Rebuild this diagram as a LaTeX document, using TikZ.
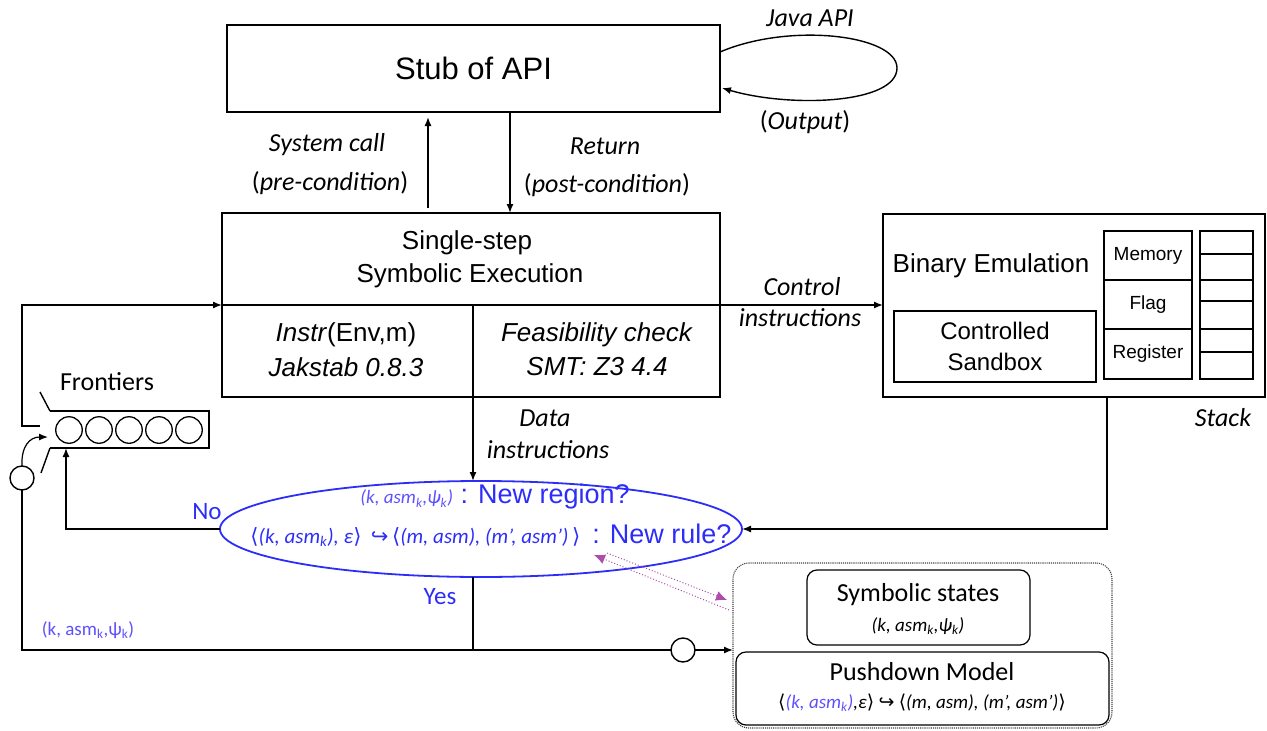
\documentclass[tikz,border=0pt]{standalone}
\usepackage{fontspec}
\setmainfont{Liberation Sans}
\newfontfamily\clb{Carlito}
\newfontfamily\dvs{DejaVu Sans}
\usetikzlibrary{shapes.geometric,arrows.meta}

\definecolor{eblue}{RGB}{45,45,250}
\definecolor{sblue}{RGB}{95,80,255}
\definecolor{pviolet}{RGB}{140,0,140}
\newcommand\lowsub[1]{\textsubscript{#1}}
\newcommand\lang{{\dvs\upshape ⟨}}
\newcommand\rang{{\dvs\upshape ⟩}}
\newcommand\hookr{{\dvs\upshape ↪}}

\begin{document}
\begin{tikzpicture}[x=1pt,y=-1pt,line width=1.4pt,
  box/.style={draw,inner sep=0,outer sep=0},
  rbox/.style={draw,inner sep=0,outer sep=0,rounded corners=10pt,line width=1.2pt},
  lab/.style={inner sep=0,font=\clb\itshape\fontsize{26}{30}\selectfont},
  ulab/.style={inner sep=0,font=\clb\fontsize{26}{30}\selectfont},
  sans/.style={inner sep=0,font=\fontsize{26}{30}\selectfont},
  cell/.style={inner sep=0,font=\fontsize{19}{22}\selectfont},
  small/.style={inner sep=0,font=\clb\itshape\fontsize{19}{22}\selectfont},
  arr/.style={-{Latex[length=9pt,width=7pt]}},
  parr/.style={pviolet!70,line width=1pt,dotted,-{Latex[length=11pt,width=10pt]}},
  ring/.style={draw,circle,inner sep=0,outer sep=0,minimum size=24pt}]
\useasboundingbox (0,0) rectangle (1267,731);

% --- API stub and its self loop
\node[box,minimum width=493,minimum height=87,font=\fontsize{31}{34}\selectfont] (stub) at (473.5,68.5) {Stub of API};
\coordinate (jl1) at (720,52);
\coordinate (jl2) at (722,88);
\draw[arr] (jl1) .. controls (790,22) and (897,35) .. (897,68)
               .. controls (897,104) and (790,108) .. (jl2);
\node[lab] (javaapi) at (810,18) {Java API};
\node[lab] (output) at (805,122) {\textup{(}Output\textup{)}};

% --- single-step symbolic execution
\node[box,minimum width=498,minimum height=184] (sse) at (471,305) {};
\draw (sse.west) -- (sse.east);
\coordinate (dtop) at (473,305);
\coordinate (dbot) at (473,397);
\draw (dtop) -- (dbot);
\node[sans] (single) at (467,243) {Single-step};
\node[sans] (symex) at (470,276) {Symbolic Execution};
\node[sans] (instr) at (346,335) {\textit{Instr}(Env,m)};
\node[sans] (jak) at (346,367) {\textit{Jakstab 0.8.3}};
\node[sans] (feas) at (597,335) {\textit{Feasibility check}};
\node[sans] (smt) at (597,367) {\textit{SMT: Z3 4.4}};

% system call / return
\coordinate (xsc) at (428,0);
\coordinate (xrt) at (510,0);
\draw[arr,shorten <=5pt,shorten >=5pt] (sse.north -| xsc) -- (stub.south -| xsc);
\draw[arr] (stub.south -| xrt) -- (sse.north -| xrt);
\node[lab] (syscall) at (327,145) {System call};
\node[lab] (pre) at (330,183) {\textup{(}pre-condition\textup{)}};
\node[lab] (ret) at (605,146) {Return};
\node[lab] (post) at (607,185) {\textup{(}post-condition\textup{)}};

% --- binary emulation
\node[box,minimum width=382,minimum height=183] (be) at (1074,305.5) {};
\node[sans] (betxt) at (991,266) {Binary Emulation};
\node[box,minimum width=202,minimum height=71,align=center,
      font=\fontsize{24}{31}\selectfont] (sandbox) at (995,346.5) {Controlled\\Sandbox};
\node[box,cell,minimum width=88,minimum height=49] (mem) at (1148,255.5) {Memory};
\node[box,cell,minimum width=88,minimum height=49] (flag) at (1148,304.5) {Flag};
\node[box,cell,minimum width=88,minimum height=50] (reg) at (1148,354) {Register};
\foreach \ya/\yb [count=\i] in {231/254,254/280,280/301,301/329,329/352,352/379}
  \node[box,minimum width=53,minimum height={\yb-\ya}] (stk\i) at (1226.5,{(\ya+\yb)/2}) {};
\node[lab] (stack) at (1223,418) {Stack};

\draw[arr] (sse.east) -- (sse.east -| be.west);
\node[lab] (ctrl1) at (802,287) {Control};
\node[lab] (ctrl2) at (800,318) {instructions};

% --- decision ellipse
\node[draw=eblue,line width=1.8pt,ellipse,minimum width=522,minimum height=96,
      inner sep=0,outer sep=0] (ell) at (481,529) {};
\node[inner sep=0,text=eblue,font=\fontsize{27}{30}\selectfont] (newreg) at (495,497)
  {{\clb\itshape\fontsize{19}{22}\selectfont\color{sblue}(k, asm\lowsub{k},ψ\lowsub{k})} : New region?};
\node[inner sep=0,text=eblue,font=\fontsize{27}{30}\selectfont] (newrule) at (491,535)
  {{\clb\itshape\fontsize{21}{23}\selectfont \lang(k, asm\lowsub{k}), ε\rang\ \ \hookr\,\lang(m, asm), (m’, asm’)\,\rang\ } : New rule?};

\draw[arr] (dbot) -- (dbot |- ell.north);
\node[lab] (data1) at (545,418) {Data};
\node[lab] (data2) at (548,450) {instructions};

\coordinate (xbe) at (1107,0);
\draw[arr] (be.south -| xbe) |- (ell.east);

% --- frontier queue
\node[inner sep=0,outer sep=0,minimum width=159,minimum height=37] (fq) at (129.5,429.5) {};
\draw (fq.south west) -- (fq.south east) -- (fq.north east) -- (fq.north west);
\draw (fq.north west) -- ++(-10,-19);
\draw (fq.south west) -- ++(-9,25);
\foreach \i in {1,...,5}
  \node[draw,circle,inner sep=0,minimum size=26.5pt,line width=1.3pt] (q\i) at ({39+30*\i},430) {};
\node[ulab] (front) at (107,382) {Frontiers};

\coordinate (fexit) at (40,426);
\draw[arr] (fexit) -- ++(-18,0) |- (sse.west);

\node[ring] (c1) at (22,478) {};
\coordinate (fin) at (48,437);
\draw[arr,line width=1.2pt] (c1.north) .. controls (21,446) and (30,437) .. (fin);

\draw[arr] (ell.west) -| ([xshift=16pt]fq.south west);
\node[inner sep=0,text=eblue,font=\clb\fontsize{25}{28}\selectfont] (no) at (207,512) {No};

% --- yes branch
\coordinate (yj) at (473,650);
\node[ring] (c2) at (683,650) {};
\draw (ell.south -| yj) -- (yj) -| (c1.south);
\draw (yj) -- (c2.west);
\node[inner sep=0,text=eblue,font=\clb\fontsize{25}{28}\selectfont] (yes) at (440,597) {Yes};
\node[inner sep=0,text=sblue,font=\clb\fontsize{19}{22}\selectfont] (kasm) at (88,630) {(k, asm\lowsub{k},ψ\lowsub{k})};

% --- model store
\node[draw=black!75,densely dotted,line width=1.1pt,rounded corners=16pt,inner sep=0,outer sep=0,
      minimum width=379,minimum height=165] (store) at (922.5,645.5) {};
\node[rbox,minimum width=223,minimum height=75] (symst) at (918.5,607.5) {};
\node[ulab] (symtxt) at (918,595) {Symbolic states};
\node[small] (symk) at (918,626) {(k, asm\lowsub{k},ψ\lowsub{k})};
\node[rbox,minimum width=373,minimum height=73] (pdm) at (922.5,688.5) {};
\node[ulab] (pdtxt) at (922,672) {Pushdown Model};
\node[small] (pdrule) at (922,703)
  {\lang{\color{sblue}(k, asm\lowsub{k})},ε\rang\ \hookr\ \lang(m, asm), (m’, asm’)\rang};

\draw[arr] (c2.east) -- (c2.east -| store.west);

% query links between the ellipse and the store
\coordinate (pa) at (607,553);
\coordinate (pb) at (727,600);
\coordinate (pc) at (729,610);
\coordinate (pd) at (594,555);
\draw[parr] (pa) -- (pb);
\draw[parr] (pc) -- (pd);
\end{tikzpicture}
\end{document}
